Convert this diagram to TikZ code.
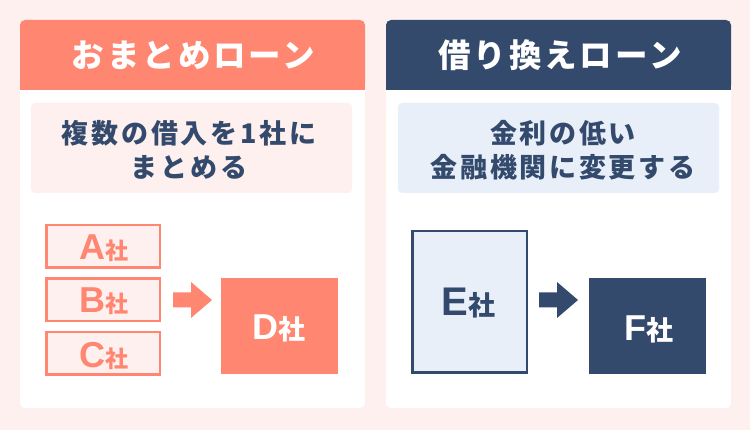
\documentclass[tikz,border=0pt]{standalone}
\usepackage{fontspec}
\newfontfamily\jp{Noto Sans CJK JP}[LetterSpace=9]
\newfontfamily\jpd{Noto Sans CJK JP}[LetterSpace=10]
\newfontfamily\jpn{Noto Sans CJK JP}
\newfontfamily\lat{Liberation Sans}
\definecolor{salmon}{HTML}{FF8670}
\definecolor{navy}{HTML}{334A6D}
\definecolor{bgpink}{HTML}{FDF0EE}
\definecolor{lblue}{HTML}{E8EFF9}
\tikzset{
  headtext/.style={text=white, font=\jp\bfseries\fontsize{32.5}{38}\selectfont, inner sep=0},
  desctext/.style={text=navy, align=center, font=\jpd\bfseries\fontsize{27}{34}\selectfont, inner sep=0},
  outbox/.style={draw=#1, line width=2.5pt, inner sep=0},
  solidbox/.style={fill=#1, inner sep=0},
  lbl/.style={anchor=base, inner sep=0},
}
\begin{document}
\begin{tikzpicture}[x=1pt,y=-1pt]
\fill[bgpink] (0,0) rectangle (750,430);
\useasboundingbox (0,0) rectangle (750,430);
% panels
\fill[white, rounded corners=5] (20,20) rectangle (365,408);
\fill[white, rounded corners=5] (386,20) rectangle (731,408);
% headers
\fill[salmon, rounded corners=5] (20,20) rectangle (365,90);
\fill[salmon] (20,60) rectangle (365,90);
\fill[navy, rounded corners=5] (386,20) rectangle (731,90);
\fill[navy] (386,60) rectangle (731,90);
\node[headtext] (h1) at (193.5,55) {おまとめローン};
\node[headtext] (h2) at (560,55) {借り換えローン};
% description boxes
\node[fill=bgpink, rounded corners=4, minimum width=321, minimum height=90, inner sep=0] (i1) at (191.5,148) {};
\node[fill=lblue, rounded corners=4, minimum width=321, minimum height=90, inner sep=0] (i2) at (558.5,148) {};
\node[desctext] (d1) at (189,150) {複数の借入を1社に\\まとめる};
\node[desctext] (d2) at (563,150) {金利の低い\\金融機関に変更する};
% left boxes
\node[outbox=salmon, fill=bgpink, minimum width=113.5, minimum height=42.5] (A) at (103,246.5) {};
\node[outbox=salmon, fill=bgpink, minimum width=113.5, minimum height=42.5] (B) at (103,300) {};
\node[outbox=salmon, fill=bgpink, minimum width=113.5, minimum height=42.5] (C) at (103,353.5) {};
\node[solidbox=salmon, minimum width=117, minimum height=96] (D) at (279.5,326) {};
\node[lbl, text=salmon] (la) at (103.5,260) {\lat\bfseries\fontsize{36}{36}\selectfont A\jpn\fontsize{23}{23}\selectfont 社};
\node[lbl, text=salmon] (lb) at (103.5,313) {\lat\bfseries\fontsize{36}{36}\selectfont B\jpn\fontsize{23}{23}\selectfont 社};
\node[lbl, text=salmon] (lc) at (103.5,367) {\lat\bfseries\fontsize{36}{36}\selectfont C\jpn\fontsize{23}{23}\selectfont 社};
\node[lbl, text=white] (ld) at (279,340) {\lat\bfseries\fontsize{36}{36}\selectfont D\jpn\fontsize{27}{27}\selectfont 社};
% right boxes
\node[outbox=navy, fill=lblue, minimum width=114.5, minimum height=141.5] (E) at (469.5,302) {};
\node[solidbox=navy, minimum width=117, minimum height=96] (F) at (647.5,326) {};
\node[lbl, text=navy] (le) at (468.5,315.5) {\lat\bfseries\fontsize{40}{40}\selectfont E\jpn\fontsize{27}{27}\selectfont 社};
\node[lbl, text=white] (lf) at (649,341) {\lat\bfseries\fontsize{36}{36}\selectfont F\jpn\fontsize{27}{27}\selectfont 社};
% arrows
\coordinate (a1) at (173,300);
\coordinate (a2) at (539,300);
\fill[salmon] (a1) ++(0,-7.5) -- ++(18,0) -- ++(0,-10.5) -- ++(21,18) -- ++(-21,18) -- ++(0,-10.5) -- ++(-18,0) -- cycle;
\fill[navy] (a2) ++(0,-7.5) -- ++(18,0) -- ++(0,-10.5) -- ++(21,18) -- ++(-21,18) -- ++(0,-10.5) -- ++(-18,0) -- cycle;
\end{tikzpicture}
\end{document}
